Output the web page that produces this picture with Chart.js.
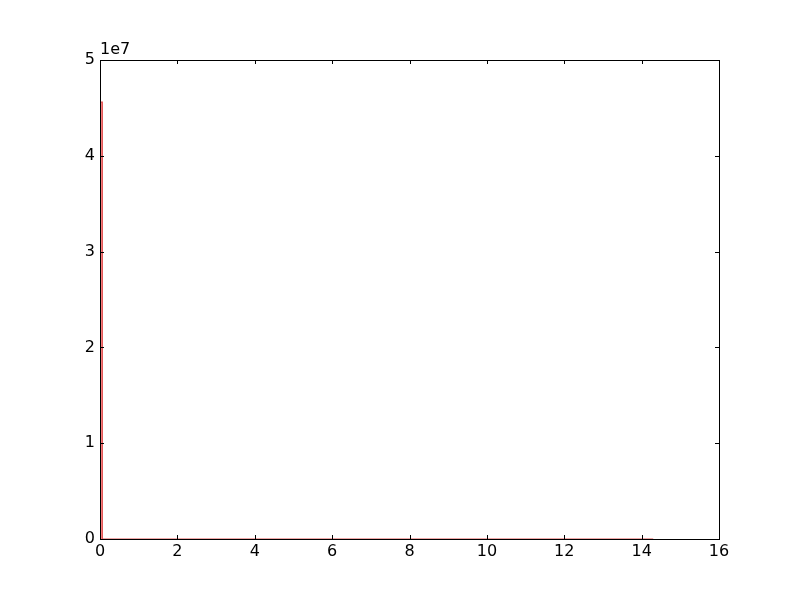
<!DOCTYPE html>
<html>
<head>
<meta charset="utf-8">
<script src="https://cdn.jsdelivr.net/npm/chart.js@4"></script>
<style>
  html, body { margin: 0; padding: 0; background: #fff; }
  #wrap { width: 800px; height: 600px; }
</style>
</head>
<body>
<div id="wrap"><canvas id="histChart" width="800" height="600"></canvas></div>
<script>
// histogram bins (edges) and counts
const binEdges = [0, 0.06, 14.3];
const binCounts = [45600000, 0];
const xTicks = [0, 2, 4, 6, 8, 10, 12, 14, 16];
const yTicks = [0, 1e7, 2e7, 3e7, 4e7, 5e7];

// outline of the histogram as a stepped polyline
const outline = [{ x: binEdges[0], y: 0 }];
binCounts.forEach((c, i) => {
    outline.push({ x: binEdges[i], y: c });
    outline.push({ x: binEdges[i + 1], y: c });
});
outline.push({ x: binEdges[binEdges.length - 1], y: 0 });

const tickFont = { family: 'DejaVu Sans', size: 16 };

// matplotlib-like frame with inward ticks on all four sides
const framePlugin = {
    id: 'frame',
    afterDraw(chart) {
        const { ctx, chartArea: a, scales } = chart;
        ctx.save();
        ctx.strokeStyle = '#000';
        ctx.lineWidth = 1;
        ctx.beginPath();
        xTicks.forEach(v => {
            const px = Math.round(scales.x.getPixelForValue(v)) + 0.5;
            ctx.moveTo(px, a.bottom); ctx.lineTo(px, a.bottom - 4);
            ctx.moveTo(px, a.top); ctx.lineTo(px, a.top + 4);
        });
        yTicks.forEach(v => {
            const py = Math.round(scales.y.getPixelForValue(v)) + 0.5;
            ctx.moveTo(a.left, py); ctx.lineTo(a.left + 4, py);
            ctx.moveTo(a.right, py); ctx.lineTo(a.right - 4, py);
        });
        ctx.stroke();
        ctx.strokeRect(Math.round(a.left) + 0.5, Math.round(a.top) + 0.5,
            Math.round(a.right - a.left), Math.round(a.bottom - a.top));
        ctx.fillStyle = '#000';
        ctx.font = '16px "DejaVu Sans"';
        ctx.textAlign = 'left';
        ctx.textBaseline = 'bottom';
        ctx.fillText('1e7', a.left, a.top - 2);
        ctx.restore();
    }
};

new Chart(document.getElementById('histChart').getContext('2d'), {
    type: 'line',
    data: {
        datasets: [{
            data: outline,
            borderColor: '#e05050',
            backgroundColor: 'rgba(255,110,110,0.8)',
            borderWidth: 1.2,
            fill: 'origin',
            pointRadius: 0,
            tension: 0
        }]
    },
    options: {
        responsive: false,
        animation: false,
        layout: { padding: { left: 0, top: 60, right: 81, bottom: 0 } },
        plugins: { legend: { display: false }, tooltip: { enabled: false } },
        scales: {
            x: {
                type: 'linear',
                min: 0, max: 16,
                afterBuildTicks: s => { s.ticks = xTicks.map(v => ({ value: v })); },
                afterFit: s => { s.height = 61; },
                grid: { display: false, tickLength: 0 },
                border: { display: false },
                ticks: { color: '#000', font: tickFont, padding: 3, maxRotation: 0 }
            },
            y: {
                min: 0, max: 5e7,
                afterBuildTicks: s => { s.ticks = yTicks.map(v => ({ value: v })); },
                afterFit: s => { s.width = 100; },
                grid: { display: false, tickLength: 0 },
                border: { display: false },
                ticks: { color: '#000', font: tickFont, padding: 5, callback: v => v / 1e7 }
            }
        }
    },
    plugins: [framePlugin]
});
</script>
</body>
</html>
